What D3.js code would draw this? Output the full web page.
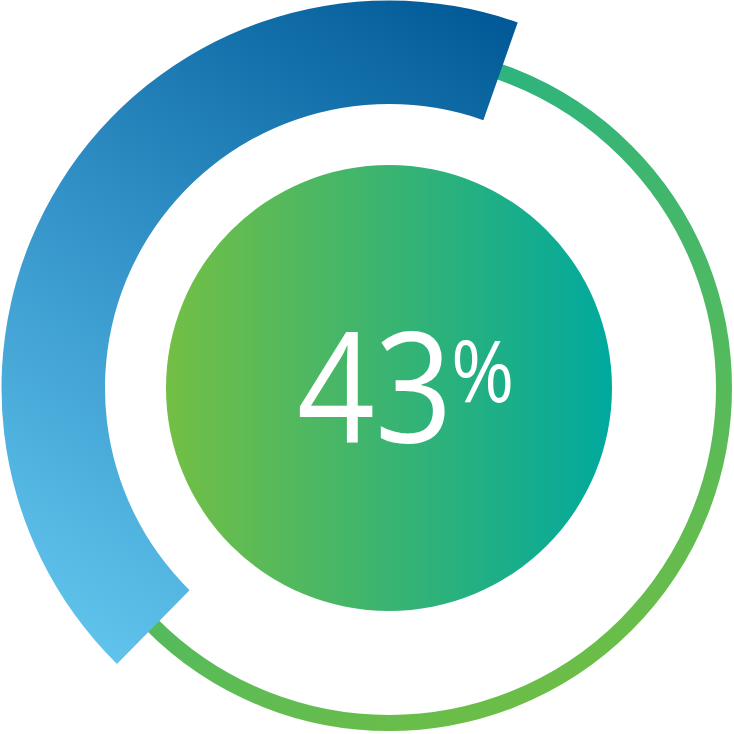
<!DOCTYPE html>
<html>
<head>
<meta charset="utf-8">
<script src="https://cdn.jsdelivr.net/npm/d3@7"></script>
<style>
html,body{margin:0;padding:0;background:#fff;}
svg{display:block;}
</style>
</head>
<body>
<svg id="chart" width="734" height="734"></svg>
<script>
// ---- data ----
const percentValue = [43];
const labelText = ["43"];
const labelSuffix = ["%"];
const arcStartDeg = [-135.4];

const svg = d3.select("#chart");
const cx = 389, cy = 388;

const defs = svg.append("defs");
const gBlue = defs.append("linearGradient").attr("id","gBlue")
  .attr("gradientUnits","userSpaceOnUse")
  .attr("x1",115 - cx).attr("y1",660 - cy).attr("x2",515 - cx).attr("y2",20 - cy);
gBlue.append("stop").attr("offset","0%").attr("stop-color","#60c3eb");
gBlue.append("stop").attr("offset","45%").attr("stop-color","#3696cb");
gBlue.append("stop").attr("offset","100%").attr("stop-color","#005996");

const gRing = defs.append("linearGradient").attr("id","gRing")
  .attr("gradientUnits","userSpaceOnUse")
  .attr("x1",300 - cx).attr("y1",40 - cy).attr("x2",600 - cx).attr("y2",700 - cy);
gRing.append("stop").attr("offset","0%").attr("stop-color","#22b288");
gRing.append("stop").attr("offset","100%").attr("stop-color","#6fbe45");

const gCore = defs.append("linearGradient").attr("id","gCore")
  .attr("x1","0%").attr("y1","0%").attr("x2","100%").attr("y2","0%");
gCore.append("stop").attr("offset","0%").attr("stop-color","#73bf44");
gCore.append("stop").attr("offset","100%").attr("stop-color","#00a99e");

const g = svg.append("g").attr("transform",`translate(${cx},${cy})`);

// thin outer ring
g.append("circle").attr("r",335).attr("fill","none")
  .attr("stroke","url(#gRing)").attr("stroke-width",16);

// angle scale
const startA = arcStartDeg[0] * Math.PI/180;
const angle = d3.scaleLinear().domain([0,100]).range([startA, startA + 2*Math.PI]);
const arc = d3.arc().innerRadius(284).outerRadius(387.5);

g.selectAll("path.val").data(percentValue).join("path")
  .attr("class","val")
  .attr("d", d => arc({startAngle: angle(0), endAngle: angle(d)}))
  .attr("fill","url(#gBlue)");

// inner circle
g.append("circle").attr("r",223).attr("fill","url(#gCore)");

// label
const t = g.append("text")
  .attr("transform","translate(-92,55) scale(0.89,1)")
  .attr("x",0).attr("y",0)
  .attr("fill","#fff")
  .style("font-family","'Open Sans', sans-serif")
  .style("font-weight",400);
t.append("tspan").style("font-size","153px").text(labelText[0]);
t.append("tspan").style("font-size","86px").attr("dy",-41).attr("dx",-2).text(labelSuffix[0]);
</script>
</body>
</html>
